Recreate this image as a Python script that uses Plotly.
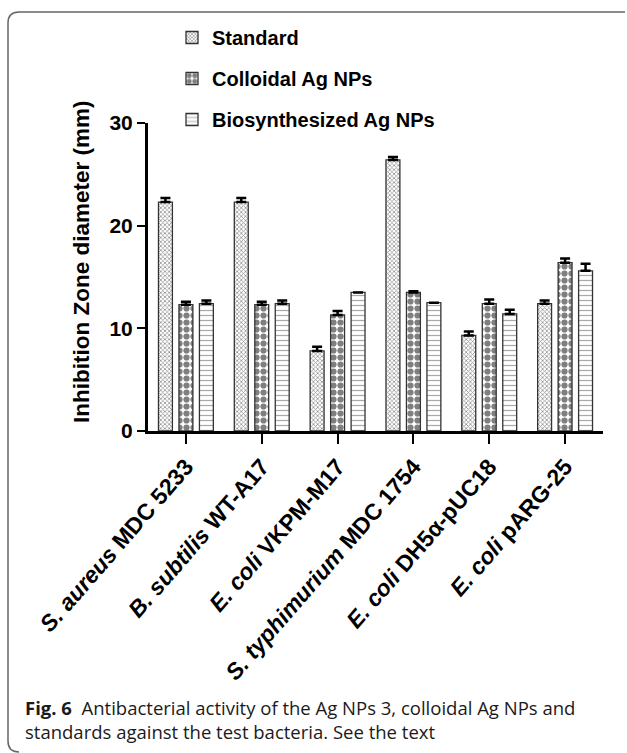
import plotly.graph_objects as go

W, H = 627, 753

categories = ["S. aureus MDC 5233", "B. subtilis WT-A17", "E. coli VKPM-M17",
              "S. typhimurium MDC 1754", "E. coli DH5α-pUC18", "E. coli pARG-25"]
tick_labels = ["<i>S. aureus</i> MDC 5233", "<i>B. subtilis</i> WT-A17", "<i>E. coli</i> VKPM-M17",
               "<i>S. typhimurium</i> MDC 1754", "<i>E. coli</i> DH5α-pUC18", "<i>E. coli</i> pARG-25"]

series_names = ["Standard", "Colloidal Ag NPs", "Biosynthesized Ag NPs"]
standard = [22.3, 22.3, 7.8, 26.4, 9.3, 12.4]
standard_err = [0.4, 0.4, 0.4, 0.3, 0.4, 0.3]
colloidal = [12.3, 12.3, 11.3, 13.5, 12.4, 16.4]
colloidal_err = [0.3, 0.3, 0.4, 0.1, 0.4, 0.4]
biosynth = [12.4, 12.4, 13.5, 12.5, 11.4, 15.6]
biosynth_err = [0.3, 0.3, 0.0, 0.0, 0.4, 0.7]

patterns = [dict(shape="x", size=3, solidity=0.45, fgcolor="#222", bgcolor="white", fillmode="overlay"),
            dict(shape=".", size=7, solidity=0.62, fgcolor="black", bgcolor="white", fillmode="overlay"),
            dict(shape="-", size=5, solidity=0.25, fgcolor="#555", bgcolor="white", fillmode="overlay")]

FONT = "Liberation Sans, Arial, sans-serif"

fig = go.Figure()
for i, (name, vals, errs) in enumerate(zip(series_names, [standard, colloidal, biosynth],
                                            [standard_err, colloidal_err, biosynth_err])):
    fig.add_trace(go.Bar(
        x=categories, y=vals, name=name, legendgroup=f"g{i}",
        marker=dict(color="white", pattern=patterns[i], line=dict(color="#333", width=1.3)),
        error_y=dict(type="data", array=errs, arrayminus=[0] * len(errs), symmetric=False,
                     color="black", thickness=2.5, width=5),
    ))

def px(x):
    return x / W

def py(y):
    return 1 - y / H

fig.update_layout(
    width=W, height=H,
    margin=dict(l=0, r=0, t=0, b=0, autoexpand=False),
    paper_bgcolor="white", plot_bgcolor="white",
    barmode="group", bargap=0.19, bargroupgap=0.32,
    font=dict(family=FONT, color="black"),
    showlegend=True,
    legend=dict(x=px(172), y=py(18), xanchor="left", yanchor="top",
                font=dict(size=20, weight="bold", family=FONT),
                tracegroupgap=12, traceorder="grouped", bgcolor="rgba(0,0,0,0)"),
    xaxis=dict(domain=[px(148), px(603)], anchor="y", range=[-0.5, 5.5], automargin=False,
               showline=True, linewidth=3, linecolor="black",
               ticks="outside", ticklen=10, tickwidth=2, tickcolor="black",
               tickmode="array", tickvals=categories, ticktext=tick_labels,
               tickangle=-49, tickfont=dict(size=23, weight="bold", family=FONT),
               showgrid=False, zeroline=False),
    yaxis=dict(domain=[py(431), py(123)], anchor="x", range=[0, 30], dtick=10, automargin=False,
               showline=True, linewidth=3, linecolor="black",
               ticks="outside", ticklen=8, tickwidth=2, tickcolor="black",
               tickfont=dict(size=21, weight="bold", family=FONT),
               showgrid=False, zeroline=False),
    annotations=[
        dict(xref="paper", yref="paper", x=px(81), y=py(262), text="<b>Inhibition Zone diameter (mm)</b>",
             textangle=-90, showarrow=False, font=dict(size=22.5, family=FONT),
             xanchor="center", yanchor="middle"),
        dict(xref="paper", yref="paper", x=px(23), y=py(693), xanchor="left", yanchor="top", align="left",
             showarrow=False,
             text="<b>Fig. 6</b>  Antibacterial activity of the Ag NPs 3, colloidal Ag NPs and<br>standards against the test bacteria. See the text",
             font=dict(size=18.5, family="Open Sans, sans-serif", color="#1a1a1a")),
    ],
    shapes=[
        dict(type="path", xref="paper", yref="paper",
             path=(f"M {px(625)},{py(12)} L {px(19)},{py(12)} Q {px(8)},{py(12)} {px(8)},{py(23)} "
                   f"L {px(8)},{py(741)} Q {px(8)},{py(752)} {px(19)},{py(752)}"),
             line=dict(color="#666", width=1.5)),
    ],
)

fig.write_html("out.html")
